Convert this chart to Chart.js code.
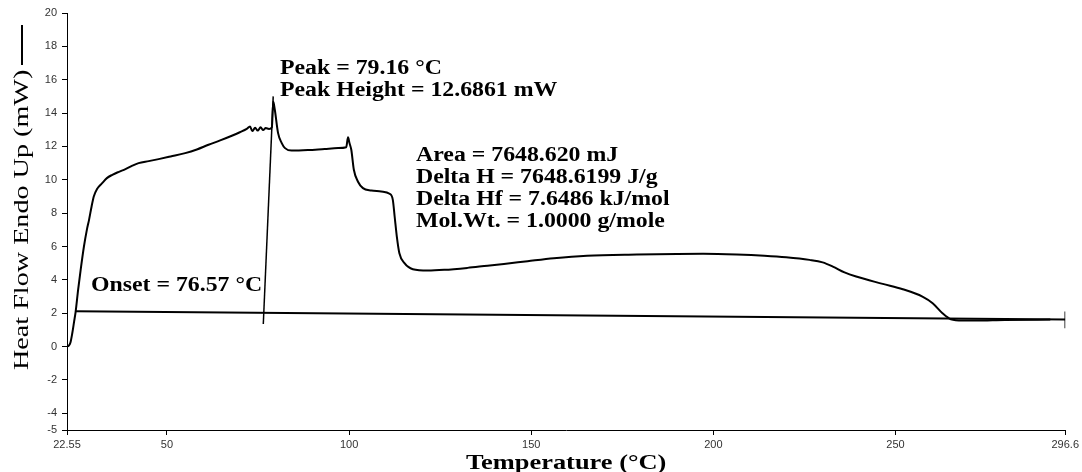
<!DOCTYPE html>
<html>
<head>
<meta charset="utf-8">
<script src="https://cdn.jsdelivr.net/npm/chart.js@4"></script>
<style>
  body { margin: 0; background: #fff; }
</style>
</head>
<body>
<canvas id="dsc" width="1082" height="472"></canvas>
<script>
// DSC heat flow curve (°C vs mW)
var tempC = [22.55, 23.0, 23.5, 24.0, 24.5, 24.9, 25.6, 26.3, 27.2, 28.0, 28.6, 29.3, 29.9, 30.8, 32.2, 33.5,
    35.0, 36.8, 38.6, 40.5, 42.2, 45.0, 47.7, 51.0, 55.0, 58.2, 61.4, 64.6, 67.8, 70.0, 71.9, 72.8,
    73.4, 74.2, 74.9, 75.7, 76.4, 77.1, 78.0, 78.8, 79.16, 79.6, 80.5, 81.5, 82.4, 84.2, 88.7, 93.3,
    97.0, 99.2, 99.7, 100.1, 100.6, 101.3, 102.4, 103.8, 106.1, 108.8, 111.1, 112.0, 112.5, 113.1,
    113.8, 115.2, 117.5, 121.6, 126.1, 132.5, 138.0, 142.5, 149.0, 156.2, 165.3, 179.0, 190.0, 197.3,
    206.4, 214.0, 220.0, 226.4, 230.0, 232.8, 236.0, 239.2, 246.5, 252.0, 257.4, 260.2, 262.9, 265.2,
    268.4, 272.0, 280.0, 292.5];
var heatFlow = [0.0, 0.05, 0.25, 0.8, 1.5, 2.05, 3.4, 4.6, 6.0, 7.0, 7.6, 8.4, 9.0, 9.45, 9.8, 10.1,
    10.3, 10.48, 10.64, 10.85, 11.0, 11.12, 11.24, 11.4, 11.6, 11.82, 12.1, 12.36, 12.64, 12.85, 13.05, 13.2,
    12.92, 13.12, 12.95, 13.15, 12.98, 13.1, 13.05, 13.15, 14.69, 14.2, 12.8, 12.2, 11.9, 11.75, 11.78, 11.85,
    11.9, 11.95, 12.55, 12.2, 11.8, 10.6, 9.9, 9.5, 9.36, 9.3, 9.16, 8.8, 7.8, 6.6,
    5.6, 5.0, 4.64, 4.56, 4.6, 4.72, 4.85, 4.95, 5.12, 5.3, 5.45, 5.52, 5.55, 5.56,
    5.52, 5.45, 5.36, 5.2, 5.05, 4.8, 4.45, 4.2, 3.76, 3.44, 3.0, 2.6, 2.0, 1.64,
    1.56, 1.56, 1.6, 1.62];

// baseline, its end marker and the onset tangent
var baseT = [24.9, 296.6];
var baseY = [2.12, 1.63];
var endMarkT = [296.6, 296.6];
var endMarkY = [2.1, 1.1];
var tangentT = [76.44, 79.16];
var tangentY = [1.35, 15.0];

var xTicks = [22.55, 50, 100, 150, 200, 250, 296.6];
var yTicks = [-5, -4, -2, 0, 2, 4, 6, 8, 10, 12, 14, 16, 18, 20];

var notes = [
    { x: 91, y: 286, lines: ['Onset = 76.57 °C'] },
    { x: 280, y: 69, lines: ['Peak = 79.16 °C', 'Peak Height = 12.6861 mW'] },
    { x: 416, y: 156, lines: ['Area = 7648.620 mJ', 'Delta H = 7648.6199 J/g', 'Delta Hf = 7.6486 kJ/mol', 'Mol.Wt. = 1.0000 g/mole'] }
];

function pts(xs, ys) {
    return xs.map(function (x, i) { return { x: x, y: ys[i] }; });
}

// text in the chart is set a little wider than the font draws it
function wideText(ctx, text, x, y, font, stretch) {
    ctx.save();
    ctx.font = font;
    ctx.translate(x, y);
    ctx.scale(stretch, 1);
    ctx.fillText(text, 0, 0);
    ctx.restore();
}

var labelsPlugin = {
    id: 'labels',
    afterDraw: function (chart) {
        var ctx = chart.ctx;
        var area = chart.chartArea;
        ctx.save();
        ctx.fillStyle = '#000';
        ctx.textBaseline = 'middle';
        ctx.textAlign = 'left';
        notes.forEach(function (n) {
            n.lines.forEach(function (line, i) {
                wideText(ctx, line, n.x, n.y + i * 21.8, 'bold 20px "Liberation Serif"', 1.19);
            });
        });

        // x axis title
        ctx.textAlign = 'center';
        wideText(ctx, 'Temperature (°C)', (area.left + area.right) / 2, 463, 'bold 22px "Liberation Serif"', 1.2);

        // y axis title with the line sample after it
        ctx.save();
        ctx.translate(22, 370);
        ctx.rotate(-Math.PI / 2);
        ctx.textAlign = 'left';
        wideText(ctx, 'Heat Flow Endo Up (mW)', 0, 0, '22px "Liberation Serif"', 1.28);
        ctx.beginPath();
        ctx.lineWidth = 2;
        ctx.strokeStyle = '#000';
        ctx.moveTo(305, 0);
        ctx.lineTo(345, 0);
        ctx.stroke();
        ctx.restore();
        ctx.restore();
    }
};

var axisStyle = {
    border: { display: true, color: '#000', width: 1 },
    grid: { drawOnChartArea: false, drawTicks: true, tickLength: 5, color: '#000' }
};

new Chart(document.getElementById('dsc'), {
    type: 'line',
    data: {
        datasets: [
            { data: pts(tempC, heatFlow), borderColor: '#000', borderWidth: 2, cubicInterpolationMode: 'monotone' },
            { data: pts(baseT, baseY), borderColor: '#000', borderWidth: 2 },
            { data: pts(endMarkT, endMarkY), borderColor: '#000', borderWidth: 1.5 },
            { data: pts(tangentT, tangentY), borderColor: '#000', borderWidth: 1.5 }
        ]
    },
    options: {
        responsive: false,
        animation: false,
        devicePixelRatio: 1,
        layout: { autoPadding: false, padding: { top: 13, right: 12, left: 0, bottom: 0 } },
        elements: { point: { radius: 0 }, line: { fill: false } },
        plugins: { legend: { display: false }, tooltip: { enabled: false } },
        scales: {
            x: Object.assign({
                type: 'linear',
                min: 22.55,
                max: 296.6,
                afterBuildTicks: function (axis) { axis.ticks = xTicks.map(function (v) { return { value: v }; }); },
                afterFit: function (axis) { axis.height = 42; },
                ticks: {
                    autoSkip: false, maxRotation: 0, padding: 3, color: '#333',
                    font: { family: 'Arial, "Liberation Sans"', size: 11 },
                    callback: function (v) { return String(v); }
                }
            }, axisStyle),
            y: Object.assign({
                type: 'linear',
                min: -5,
                max: 20,
                afterBuildTicks: function (axis) { axis.ticks = yTicks.map(function (v) { return { value: v }; }); },
                afterFit: function (axis) { axis.width = 67; },
                ticks: {
                    autoSkip: false, padding: 5, color: '#333',
                    font: { family: 'Arial, "Liberation Sans"', size: 11 },
                    callback: function (v) { return String(v); }
                }
            }, axisStyle)
        }
    },
    plugins: [labelsPlugin]
});
</script>
</body>
</html>
